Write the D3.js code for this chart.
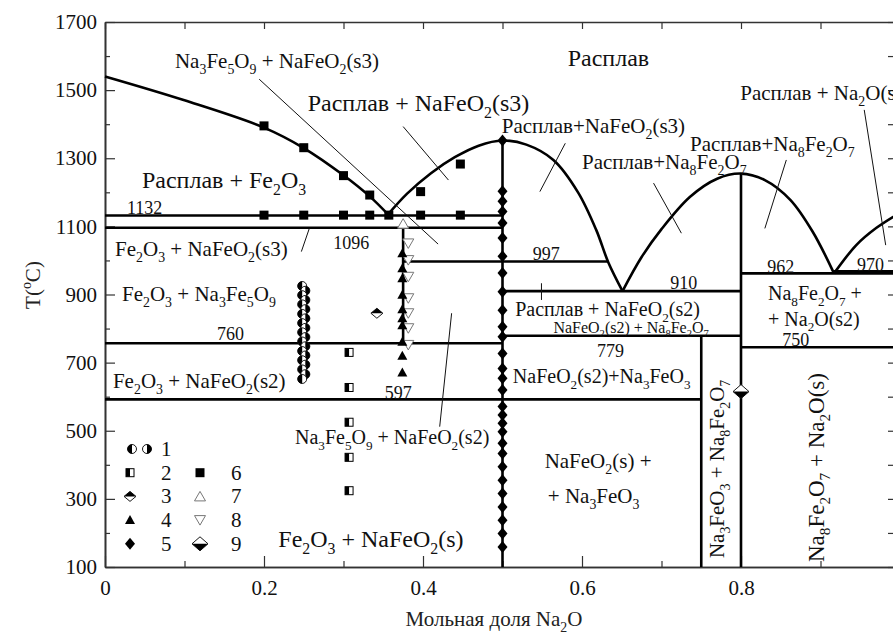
<!DOCTYPE html>
<html>
<head>
<meta charset="utf-8">
<script src="https://cdn.jsdelivr.net/npm/d3@7"></script>
<style>
  body { margin: 0; background: #fff; }
  svg { display: block; }
  svg text { font-family: "Liberation Serif", "Tinos", "Times New Roman", "Times", "DejaVu Serif", serif; }
</style>
</head>
<body>
<svg id="chart" width="893" height="638"></svg>
<script>
// axis ticks
const xMajorTicks = [0, 0.2, 0.4, 0.6, 0.8, 1.0]
const xMinorTicks = [0.1, 0.3, 0.5, 0.7, 0.9]
const yMajorTicks = [100, 300, 500, 700, 900, 1100, 1300, 1500, 1700]
const yMinorTicks = [200, 400, 600, 800, 1000, 1200, 1400, 1600]

// phase boundary curves [x, T]
const liquidusFe2O3 = [[0, 1540], [0.1, 1470], [0.2, 1390], [0.25, 1330], [0.3, 1250], [0.333, 1188], [0.356, 1135]]
const liquidusNaFeO2 = [[0.356, 1135], [0.38, 1196], [0.41, 1256], [0.44, 1303], [0.47, 1337], [0.5, 1352], [0.53, 1340], [0.564, 1295], [0.595, 1200], [0.618, 1089], [0.633, 995], [0.651, 910]]
const liquidusNa8Fe2O7 = [[0.651, 910], [0.675, 1010], [0.70, 1092], [0.736, 1187], [0.77, 1240], [0.8, 1255], [0.83, 1236], [0.862, 1178], [0.89, 1085], [0.917, 962]]
const liquidusNa2O = [[0.917, 962], [0.945, 1045], [0.97, 1095], [1.0, 1140]]

// isotherms and vertical phase lines
const isotherms = [
  { t: 1132, x0: 0, x1: 0.5 },
  { t: 1096, x0: 0, x1: 0.5 },
  { t: 997, x0: 0.375, x1: 0.633 },
  { t: 910, x0: 0.5, x1: 0.8 },
  { t: 779, x0: 0.5, x1: 0.8 },
  { t: 757, x0: 0, x1: 0.5 },
  { t: 592, x0: 0, x1: 0.75 },
  { t: 962, x0: 0.8, x1: 1 },
  { t: 968, x0: 0.917, x1: 1 },
  { t: 745, x0: 0.8, x1: 1 }
]
const verticals = [
  { x: 0.375, t0: 757, t1: 1096 },
  { x: 0.5, t0: 100, t1: 1352 },
  { x: 0.75, t0: 100, t1: 779 },
  { x: 0.8, t0: 100, t1: 1255 }
]

// thin leader lines [x0, T0, x1, T1]
const leaders = [
  [0.194, 1532, 0.419, 1048],
  [0.375, 1393, 0.432, 1236],
  [0.579, 1344, 0.547, 1202],
  [0.690, 1227, 0.725, 1080],
  [0.857, 1295, 0.830, 1094],
  [0.955, 1442, 0.982, 1045],
  [0.257, 1094, 0.247, 1026],
  [0.436, 845, 0.421, 512],
  [0.549, 933, 0.549, 884]
]

// experimental points
const pts1 = [925, 911, 898, 884, 871, 857, 843, 830, 816, 802, 789, 775, 762, 748, 734, 721, 707, 694, 680, 666, 652]
const pts2 = [730, 627, 525, 422, 324]
const pts3 = [{ x: 0.342, t: 845 }]
const pts4 = [1021, 977, 948, 899, 857, 830, 810, 761, 720, 671]
const pts5 = [1352, 1203, 1174, 1144, 1110, 1066, 1012, 963, 908, 854, 805, 776, 727, 683, 654, 620, 571, 546, 522, 497, 463, 433, 394, 355, 316, 276, 237, 198, 159]
const pts6 = [
  { x: 0.2, t: 1395 }, { x: 0.25, t: 1331 }, { x: 0.3, t: 1249 }, { x: 0.333, t: 1192 },
  { x: 0.397, t: 1202 }, { x: 0.447, t: 1283 },
  { x: 0.2, t: 1133 }, { x: 0.25, t: 1133 }, { x: 0.3, t: 1133 }, { x: 0.333, t: 1133 },
  { x: 0.357, t: 1133 }, { x: 0.397, t: 1133 }, { x: 0.447, t: 1133 }
]
const pts7 = [{ x: 0.375, t: 1108 }]
const pts8 = [1050, 1001, 952, 889, 845, 801, 752]
const pts9 = [{ x: 0.8, t: 615 }]

// region labels: text, anchor x, anchor T, font size
const labels = [
  ["Na_3Fe_5O_9 + NaFeO_2(s3)", 0.088, 1565, 21],
  ["Расплав + NaFeO_2(s3)", 0.255, 1439, 24],
  ["Расплав", 0.582, 1571, 24],
  ["Расплав+NaFeO_2(s3)", 0.499, 1374, 21],
  ["Расплав+Na_8Fe_2O_7", 0.600, 1269, 21],
  ["Расплав+Na_8Fe_2O_7", 0.736, 1321, 21],
  ["Расплав + Na_2O(s3)", 0.799, 1471, 21],
  ["Расплав + Fe_2O_3", 0.0465, 1213, 24],
  ["1132", 0.0277, 1136, 18],
  ["Fe_2O_3 + NaFeO_2(s3)", 0.0126, 1013, 21],
  ["1096", 0.287, 1034, 18],
  ["Fe_2O_3 + Na_3Fe_5O_9", 0.0214, 881, 21],
  ["760", 0.141, 767, 18],
  ["Fe_2O_3 + NaFeO_2(s2)", 0.010, 626, 21],
  ["997", 0.538, 1001, 18],
  ["910", 0.711, 916, 18],
  ["Расплав + NaFeO_2(s2)", 0.516, 837, 20],
  ["NaFeO_2(s2) + Na_8Fe_2O_7", 0.564, 787, 16],
  ["779", 0.619, 717, 18],
  ["NaFeO_2(s2)+Na_3FeO_3", 0.513, 640, 20],
  ["597", 0.352, 593, 18],
  ["Na_3Fe_5O_9 + NaFeO_2(s2)", 0.239, 461, 20],
  ["NaFeO_2(s) +", 0.553, 391, 21],
  ["+ Na_3FeO_3", 0.557, 288, 21],
  ["Fe_2O_3 + NaFeO_2(s)", 0.218, 159, 24],
  ["962", 0.833, 963, 18],
  ["970", 0.946, 969, 18],
  ["Na_8Fe_2O_7 +", 0.834, 884, 20],
  ["+ Na_2O(s2)", 0.834, 808, 20],
  ["750", 0.852, 750, 18]
]
const vLabels = [
  ["Na_3FeO_3 + Na_8Fe_2O_7", 0.779, 388, 21],
  ["Na_8Fe_2O_7 + Na_2O(s)", 0.904, 392, 23]
]
const legendItems = [["1"], ["2", "6"], ["3", "7"], ["4", "8"], ["5", "9"]]

const svg = d3.select("#chart")
const x = d3.scaleLinear().domain([0, 1]).range([105, 900])
const y = d3.scaleLinear().domain([100, 1700]).range([567, 22])

// text with _digit subscripts and ^x superscripts
function richText(el, str, size) {
  const tokens = str.match(/_\d|\^.|[^_^]+/g)
  let shift = 0
  tokens.forEach(tok => {
    let target = 0, fs = size, txt = tok
    if (tok[0] === "_") { target = size * 0.28; fs = size * 0.66; txt = tok.slice(1) }
    if (tok[0] === "^") { target = -size * 0.42; fs = size * 0.66; txt = tok.slice(1) }
    el.append("tspan").attr("dy", target - shift).attr("font-size", fs).text(txt)
    shift = target
  })
}

// axes
const axisG = svg.append("g")
axisG.append("g")
  .attr("transform", `translate(0,${y(100)})`)
  .call(d3.axisBottom(x).tickValues(xMajorTicks).tickSizeInner(-11).tickSizeOuter(0).tickPadding(13)
    .tickFormat(d => d === 0 ? "0" : d < 1 ? d3.format(".1f")(d) : ""))
axisG.append("g")
  .attr("transform", `translate(0,${y(100)})`)
  .call(d3.axisBottom(x).tickValues(xMinorTicks).tickSizeInner(-6).tickSizeOuter(0).tickFormat(""))
axisG.append("g")
  .attr("transform", `translate(0,${y(1700)})`)
  .call(d3.axisTop(x).tickValues(xMajorTicks.concat(xMinorTicks)).tickSizeInner(-7).tickSizeOuter(0).tickFormat(""))
axisG.append("g")
  .attr("transform", `translate(${x(0)},0)`)
  .call(d3.axisLeft(y).tickValues(yMajorTicks).tickSizeInner(-10).tickSizeOuter(0).tickPadding(8).tickFormat(d3.format("d")))
axisG.append("g")
  .attr("transform", `translate(${x(0)},0)`)
  .call(d3.axisLeft(y).tickValues(yMinorTicks).tickSizeInner(-5).tickSizeOuter(0).tickFormat(""))
axisG.append("g")
  .attr("transform", `translate(${x(1)},0)`)
  .call(d3.axisRight(y).tickValues(yMajorTicks.concat(yMinorTicks)).tickSizeInner(-12).tickSizeOuter(0).tickFormat(""))

axisG.selectAll("g").attr("font-family", null)
svg.selectAll(".domain").attr("stroke", "#333").attr("stroke-width", 1.6)
svg.selectAll(".tick line").attr("stroke", "#333").attr("stroke-width", 1.2)
svg.selectAll(".tick text").attr("font-size", 21).attr("fill", "#111")

// axis titles
const xt = svg.append("text").attr("x", 494).attr("y", 626).attr("text-anchor", "middle").attr("fill", "#222")
richText(xt, "Мольная доля Na_2O", 21)
const yt = svg.append("text").attr("transform", "translate(40,285) rotate(-90)").attr("text-anchor", "middle").attr("fill", "#222")
richText(yt, "T(^oC)", 21)

// phase lines
const line = d3.line().x(d => x(d[0])).y(d => y(d[1])).curve(d3.curveCatmullRom)
const phase = svg.append("g").attr("fill", "none").attr("stroke", "#000").attr("stroke-width", 2.6)
;[liquidusFe2O3, liquidusNaFeO2, liquidusNa8Fe2O7, liquidusNa2O].forEach(c => phase.append("path").attr("d", line(c)))
phase.selectAll(".iso").data(isotherms).join("line")
  .attr("x1", d => x(d.x0)).attr("x2", d => x(d.x1))
  .attr("y1", d => y(d.t)).attr("y2", d => y(d.t))
phase.selectAll(".vert").data(verticals).join("line")
  .attr("x1", d => x(d.x)).attr("x2", d => x(d.x))
  .attr("y1", d => y(d.t0)).attr("y2", d => y(d.t1))

svg.append("g").attr("stroke", "#111").attr("stroke-width", 1)
  .selectAll("line").data(leaders).join("line")
  .attr("x1", d => x(d[0])).attr("y1", d => y(d[1]))
  .attr("x2", d => x(d[2])).attr("y2", d => y(d[3]))

// symbols
function symbol(g, type, cx, cy) {
  const s = g.append("g").attr("transform", `translate(${cx},${cy})`)
  const r = 4.5
  if (type === "1a" || type === "1b") {
    s.append("circle").attr("r", r).attr("fill", "#fff").attr("stroke", "#000").attr("stroke-width", 0.9)
    const half = type === "1a" ? `M0,${-r}A${r},${r} 0 0 0 0,${r}Z` : `M0,${-r}A${r},${r} 0 0 1 0,${r}Z`
    s.append("path").attr("d", half).attr("fill", "#000")
  } else if (type === "2") {
    s.append("rect").attr("x", -4).attr("y", -4).attr("width", 8).attr("height", 8).attr("fill", "#fff").attr("stroke", "#000").attr("stroke-width", 1)
    s.append("rect").attr("x", -4).attr("y", -4).attr("width", 4).attr("height", 8).attr("fill", "#000")
  } else if (type === "3") {
    s.append("path").attr("d", "M0,-5L6,0L0,5L-6,0Z").attr("fill", "#fff").attr("stroke", "#000").attr("stroke-width", 0.9)
    s.append("path").attr("d", "M0,-5L6,0L-6,0Z").attr("fill", "#000")
  } else if (type === "4") {
    s.append("path").attr("d", "M0,-5L5,4L-5,4Z").attr("fill", "#000")
  } else if (type === "5") {
    s.append("path").attr("d", "M0,-6L5,0L0,6L-5,0Z").attr("fill", "#000")
  } else if (type === "6") {
    s.append("rect").attr("x", -4.5).attr("y", -4.5).attr("width", 9).attr("height", 9).attr("fill", "#000")
  } else if (type === "7") {
    s.append("path").attr("d", "M0,-5L5.5,4.5L-5.5,4.5Z").attr("fill", "#fff").attr("stroke", "#777").attr("stroke-width", 1)
  } else if (type === "8") {
    s.append("path").attr("d", "M0,5L5.5,-4.5L-5.5,-4.5Z").attr("fill", "#fff").attr("stroke", "#777").attr("stroke-width", 1)
  } else if (type === "9") {
    s.append("path").attr("d", "M0,-7L8,0L0,7L-8,0Z").attr("fill", "#fff").attr("stroke", "#000").attr("stroke-width", 0.9)
    s.append("path").attr("d", "M8,0L0,7L-8,0Z").attr("fill", "#000")
  }
}

const marks = svg.append("g")
pts1.forEach((t, i) => symbol(marks, i % 2 ? "1b" : "1a", x(i % 2 ? 0.252 : 0.248), y(t)))
pts2.forEach(t => symbol(marks, "2", x(0.307), y(t)))
pts3.forEach(d => symbol(marks, "3", x(d.x), y(d.t)))
pts8.forEach(t => symbol(marks, "8", x(0.3815), y(t)))
pts7.forEach(d => symbol(marks, "7", x(d.x), y(d.t)))
pts4.forEach(t => symbol(marks, "4", x(0.374), y(t)))
pts5.forEach(t => symbol(marks, "5", x(0.5), y(t)))
pts6.forEach(d => symbol(marks, "6", x(d.x), y(d.t)))
pts9.forEach(d => symbol(marks, "9", x(d.x), y(d.t)))

// labels
const lab = svg.append("g").attr("fill", "#111")
labels.forEach(([txt, lx, lt, size]) => {
  const t = lab.append("text").attr("x", x(lx)).attr("y", y(lt)).attr("font-size", size)
  richText(t, txt, size)
})
vLabels.forEach(([txt, lx, lt, size]) => {
  const t = lab.append("text").attr("text-anchor", "middle").attr("font-size", size)
    .attr("transform", `translate(${x(lx)},${y(lt)}) rotate(-90)`)
  richText(t, txt, size)
})

// legend
const legend = svg.append("g").attr("transform", "translate(130,449)")
const rowH = 23.7
const legendSyms = [["1a", "1b"], ["2", "6"], ["3", "7"], ["4", "8"], ["5", "9"]]
legendItems.forEach((nums, i) => {
  const ry = i * rowH
  if (i === 0) {
    symbol(legend, "1a", 2, ry)
    symbol(legend, "1b", 17, ry)
  } else {
    symbol(legend, legendSyms[i][0], 0, ry)
    symbol(legend, legendSyms[i][1], 70, ry)
  }
  legend.append("text").attr("x", 31).attr("y", ry + 7).attr("font-size", 21).attr("fill", "#111").text(nums[0])
  if (nums[1]) legend.append("text").attr("x", 101).attr("y", ry + 7).attr("font-size", 21).attr("fill", "#111").text(nums[1])
})
</script>
</body>
</html>
